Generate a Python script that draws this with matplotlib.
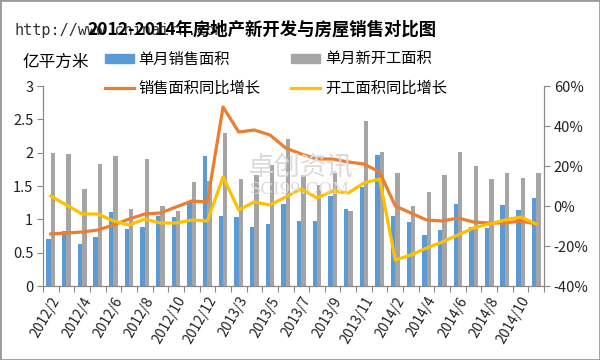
import numpy as np
import matplotlib
matplotlib.use("Agg")
import matplotlib.pyplot as plt
from matplotlib.patches import Rectangle
from matplotlib.lines import Line2D
from matplotlib.patches import Patch

plt.rcParams["font.family"] = ["Noto Sans CJK SC", "DejaVu Sans"]

# 月份（1、2月合并）
months = (["2012/%d" % m for m in range(2, 13)]
          + ["2013/%d" % m for m in range(2, 13)]
          + ["2014/%d" % m for m in range(2, 12)])

# 单月销售面积、单月新开工面积（亿平方米）
sales_area = [0.70, 0.82, 0.63, 0.73, 1.11, 0.85, 0.89, 1.05, 1.03, 1.26, 1.95,
              1.05, 1.03, 0.89, 0.93, 1.23, 0.97, 0.97, 1.35, 1.16, 1.49, 1.96,
              1.05, 0.96, 0.77, 0.84, 1.23, 0.89, 0.87, 1.21, 1.14, 1.32]
start_area = [1.99, 1.98, 1.45, 1.83, 1.95, 1.16, 1.90, 1.20, 1.13, 1.56, 1.58,
              2.29, 1.60, 1.66, 1.81, 2.21, 1.66, 1.51, 1.69, 1.13, 2.47, 2.01,
              1.69, 1.20, 1.41, 1.66, 2.01, 1.80, 1.60, 1.69, 1.62, 1.69]

# 同比增长（%）
sales_yoy = [-14, -13.5, -13, -12, -9.5, -6.5, -4, -3.5, -0.5, 2.5, 2,
             49.5, 37, 38, 35.5, 29, 26, 23.5, 23.5, 22, 21, 17,
             0, -3.5, -7, -7.5, -6, -8, -8.5, -8.5, -7.5, -9]
start_yoy = [5, 0.5, -4, -4, -7.5, -9.5, -6.5, -8.5, -8.5, -7, -7.5,
             14.5, -2, 2, 0.5, 4.5, 8.5, 4, 7.5, 6.5, 11.5, 13.5,
             -27, -24.5, -21, -18, -14.5, -11, -9, -7, -5.5, -9]

c_blue = "#5B9BD5"
c_gray = "#A5A5A5"
c_orange = "#ED7D31"
c_yellow = "#FFC000"
c_axis = "#888888"

fig = plt.figure(figsize=(6, 3.6), dpi=100)
ax = fig.add_axes([43 / 600, 1 - 286 / 360, 501 / 600, 200 / 360])
x = np.arange(len(months))
w = 0.28
ax.bar(x - w / 2, sales_area, width=w, color=c_blue)
ax.bar(x + w / 2, start_area, width=w, color=c_gray)
ax.set_xlim(-0.5, len(months) - 0.5)
ax.set_ylim(0, 3)
ax.set_yticks([0, 0.5, 1, 1.5, 2, 2.5, 3])
ax.set_yticklabels(["0", "0.5", "1", "1.5", "2", "2.5", "3"])

ax2 = ax.twinx()
ax2.plot(x, sales_yoy, color=c_orange, lw=2.3, solid_joinstyle="round")
ax2.plot(x, start_yoy, color=c_yellow, lw=2.3, solid_joinstyle="round")
ax2.set_ylim(-40, 60)
ax2.set_yticks(range(-40, 61, 20))
ax2.set_yticklabels(["%d%%" % v for v in range(-40, 61, 20)])

for a in (ax, ax2):
    a.spines["top"].set_visible(False)
    for s in ("left", "right", "bottom"):
        a.spines[s].set_color(c_axis)
    a.tick_params(axis="y", colors=c_axis, labelcolor="#222222", labelsize=10.5,
                  length=4, width=0.8, pad=3)

# 类别边界刻度 + 每隔一个月的标签
ax.set_xticks(np.arange(-0.5, len(months), 1), minor=True)
ax.set_xticks(x[::2])
ax.set_xticklabels(months[::2], rotation=60, ha="right", rotation_mode="anchor",
                   fontsize=10)
ax.tick_params(axis="x", which="major", length=0, pad=6, labelcolor="#222222")
ax.tick_params(axis="x", which="minor", length=4, width=0.8, color=c_axis)

# 水印
fig.text(300 / 600, 1 - 168 / 360, "卓创资讯", fontsize=19, color="#dadada",
         ha="center", va="center", zorder=0)
fig.text(300 / 600, 1 - 190 / 360, "SCI99.COM", fontsize=12, color="#dadada",
         family="DejaVu Serif", ha="center", va="center", zorder=0)
fig.text(15 / 600, 1 - 30 / 360, "http://www.chinairn.com", fontsize=11,
         family="DejaVu Sans Mono", color="#333333", ha="left", va="center")

fig.text(262 / 600, 1 - 30 / 360, "2012-2014年房地产新开发与房屋销售对比图",
         fontsize=12.5, fontweight="bold", ha="center", va="center")
fig.text(22 / 600, 1 - 62 / 360, "亿平方米", fontsize=12, ha="left", va="center")

handles = [Patch(color=c_blue), Patch(color=c_gray),
           Line2D([], [], color=c_orange, lw=2.3), Line2D([], [], color=c_yellow, lw=2.3)]
names = ["单月销售面积", "单月新开工面积", "销售面积同比增长", "开工面积同比增长"]
# 按行排列：第一列放 0,2，第二列放 1,3
order = [0, 2, 1, 3]
fig.legend([handles[i] for i in order], [names[i] for i in order], ncol=2,
           loc="upper left", bbox_to_anchor=(105 / 600, 1 - 51 / 360),
           frameon=False, fontsize=11, handlelength=1.9, handleheight=0.5,
           handletextpad=0.3, columnspacing=2.0, labelspacing=0.75,
           borderaxespad=0, borderpad=0)

fig.patches.append(Rectangle((0, 0), 1, 1, transform=fig.transFigure, fill=False,
                             edgecolor="#999999", lw=2))

fig.savefig("out.png", dpi=100)
